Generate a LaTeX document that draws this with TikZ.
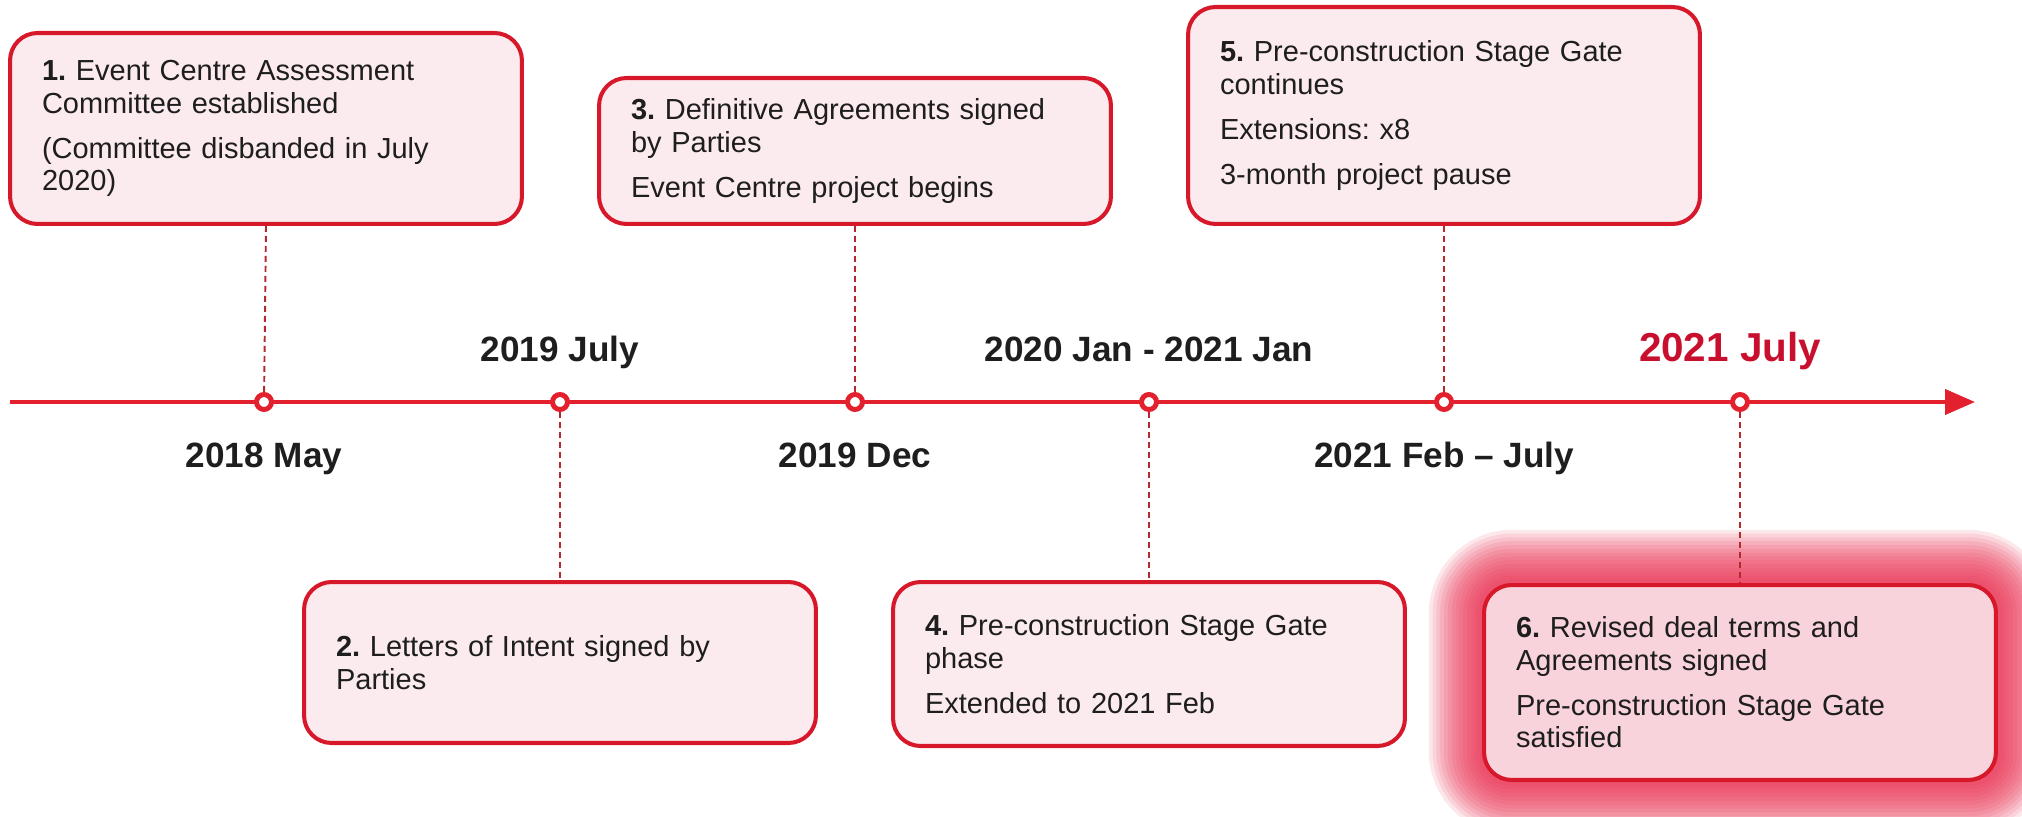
\documentclass[tikz,border=0pt]{standalone}
\usepackage{fontspec}
\setmainfont{Liberation Sans}
\usetikzlibrary{arrows.meta, backgrounds, positioning}
\frenchspacing

\definecolor{lineRed}{HTML}{E2202E}
\definecolor{boxRed}{HTML}{D7182A}
\definecolor{boxFill}{HTML}{FCEBEE}
\definecolor{hotFill}{HTML}{F9D3DC}
\definecolor{glowRed}{HTML}{E8284A}
\definecolor{stemRed}{HTML}{B22A30}
\definecolor{textGrey}{HTML}{1E1E1E}
\definecolor{dateRed}{HTML}{C8102E}

\tikzset{
	eventbox/.style={draw=boxRed, line width=2.3pt, fill=boxFill, rounded corners=0.55cm,
		text width=8.96cm, align=left, inner xsep=0.64cm, inner ysep=0pt,
		text=textGrey, font=\fontsize{16.5}{18.5}\selectfont},
	marker/.style={circle, draw=lineRed, line width=2.8pt, fill=white, inner sep=0pt, minimum size=0.3cm},
	stem/.style={-, color=stemRed, line width=1.1pt, dash pattern=on 0.12cm off 0.08cm},
	datelabel/.style={anchor=base, text=textGrey, font=\bfseries\fontsize{20}{22}\selectfont},
}

\begin{document}
\begin{tikzpicture}[x=0.02cm, y=-0.02cm]
	\useasboundingbox (0, 0) rectangle (2022, 817);
	\clip (0, 0) rectangle (2022, 817);
	
	\coordinate (axStart) at (10, 402);
	\coordinate (axEnd) at (1975, 402);
	\draw[-{Triangle[length=0.6cm, width=0.5cm]}, color=lineRed, line width=2.3pt] (axStart) -- (axEnd);
	
	\foreach \i/\x in {1/264, 2/560, 3/855, 4/1149, 5/1444, 6/1740}
		\node[marker] (m\i) at (\x, 402) {};
	
	% dates
	\node[datelabel] (d1) at (264, 467) {2018 May};
	\node[datelabel] (d2) at (560, 362) {2019 July};
	\node[datelabel] (d3) at (855, 467) {2019 Dec};
	\node[datelabel] (d4) at (1149, 362) {2020 Jan - 2021 Jan};
	\node[datelabel] (d5) at (1444, 467) {2021 Feb -- July};
	\node[datelabel, text=dateRed, font=\bfseries\fontsize{23}{25}\selectfont] (d6) at (1730, 362) {2021 July};
	
	% events above the line
	\node[eventbox, anchor=south, minimum height=3.82cm] (b1) at (266, 226)
		{\textbf{1.} Event Centre Assessment\\Committee established\\[7pt](Committee disbanded in July\\2020)};
	\node[eventbox, anchor=south, minimum height=2.92cm] (b3) at (855, 226)
		{\textbf{3.} Definitive Agreements signed\\by Parties\\[7pt]Event Centre project begins};
	\node[eventbox, anchor=south, minimum height=4.34cm] (b5) at (1444, 226)
		{\textbf{5.} Pre-construction Stage Gate\\continues\\[7pt]Extensions: x8\\[7pt]3-month project pause};
	
	% events below the line
	\node[eventbox, anchor=north, minimum height=3.22cm] (b2) at (560, 580)
		{\textbf{2.} Letters of Intent signed by\\Parties};
	\node[eventbox, anchor=north, minimum height=3.28cm] (b4) at (1149, 580)
		{\textbf{4.} Pre-construction Stage Gate\\phase\\[7pt]Extended to 2021 Feb};
	\node[eventbox, anchor=north, minimum height=3.9cm, fill=hotFill] (b6) at (1740, 583)
		{\textbf{6.} Revised deal terms and\\Agreements signed\\[7pt]Pre-construction Stage Gate\\satisfied};
	
	\begin{scope}[on background layer]
		\foreach \g in {1,...,14} {
			\pgfmathsetmacro\rr{0.55+0.08*\g}
			\fill[glowRed, opacity=0.11, rounded corners=\rr cm]
				([shift={(-\g*3.8, -\g*3.8)}]b6.north west) rectangle ([shift={(\g*3.8, \g*3.8)}]b6.south east);
		}
	\end{scope}
	
	\foreach \i in {1, 3, 5}
		\draw[stem] (b\i.south) -- (m\i);
	\foreach \i in {2, 4, 6}
		\draw[stem] (m\i) -- (b\i.north);
	
\end{tikzpicture}
\end{document}
